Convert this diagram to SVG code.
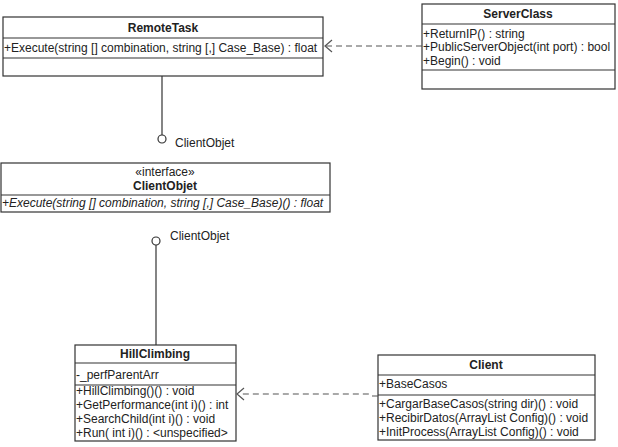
<svg xmlns="http://www.w3.org/2000/svg" width="618" height="447" viewBox="0 0 618 447">
<style>
.box{fill:#fff;stroke:#333;stroke-width:1.2}
.ln{stroke:#333;stroke-width:1.2;fill:none}
.t{font-family:"Liberation Sans",Arial,sans-serif;font-size:12px;fill:#222}
.b{font-weight:bold;text-anchor:middle}
.i{font-style:italic}
.dash{stroke:#555;stroke-width:1.2;fill:none;stroke-dasharray:6,4}
.arr{stroke:#555;stroke-width:1.2;fill:none}
</style>
<rect width="618" height="447" fill="#fff"/>
<g id="RemoteTask">
<rect class="box" x="3" y="17" width="320" height="59"/>
<line class="ln" x1="3" y1="38" x2="323" y2="38"/>
<line class="ln" x1="3" y1="58" x2="323" y2="58"/>
<text class="t b" x="163" y="32">RemoteTask</text>
<text class="t" x="4" y="52">+Execute(string [] combination, string [,] Case_Base) : float</text>
</g>
<g id="ServerClass">
<rect class="box" x="422" y="4" width="193" height="85"/>
<line class="ln" x1="422" y1="24" x2="615" y2="24"/>
<line class="ln" x1="422" y1="70" x2="615" y2="70"/>
<text class="t b" x="518" y="18">ServerClass</text>
<text class="t" x="423" y="38">+ReturnIP() : string</text>
<text class="t" x="423" y="51">+PublicServerObject(int port) : bool</text>
<text class="t" x="423" y="65">+Begin() : void</text>
</g>
<g id="ClientObjet">
<rect class="box" x="1" y="163" width="329" height="49"/>
<line class="ln" x1="1" y1="195" x2="330" y2="195"/>
<text class="t" x="165" y="176" text-anchor="middle">«interface»</text>
<text class="t b" x="165" y="190">ClientObjet</text>
<text class="t i" x="2" y="207">+Execute(string [] combination, string [,] Case_Base)() : float</text>
</g>
<g id="HillClimbing">
<rect class="box" x="75" y="345" width="161" height="96"/>
<line class="ln" x1="75" y1="363" x2="236" y2="363"/>
<line class="ln" x1="75" y1="385" x2="236" y2="385" stroke-width="1.6"/>
<text class="t b" x="155" y="358">HillClimbing</text>
<text class="t" x="76" y="379">-_perfParentArr</text>
<text class="t" x="76" y="395">+HillClimbing()() : void</text>
<text class="t" x="76" y="409">+GetPerformance(int i)() : int</text>
<text class="t" x="76" y="423">+SearchChild(int i)() : void</text>
<text class="t" x="76" y="437">+Run( int i)() : &lt;unspecified&gt;</text>
</g>
<g id="Client">
<rect class="box" x="378" y="355" width="217" height="85"/>
<line class="ln" x1="378" y1="375" x2="595" y2="375"/>
<line class="ln" x1="378" y1="395" x2="595" y2="395" stroke-width="1.6"/>
<text class="t b" x="486" y="369">Client</text>
<text class="t" x="379" y="388">+BaseCasos</text>
<text class="t" x="379" y="408">+CargarBaseCasos(string dir)() : void</text>
<text class="t" x="379" y="422">+RecibirDatos(ArrayList Config)() : void</text>
<text class="t" x="379" y="436">+InitProcess(ArrayList Config)() : void</text>
</g>
<g id="connectors">
<line class="ln" x1="162" y1="76" x2="162" y2="135"/>
<circle cx="162" cy="139" r="4" fill="#fff" stroke="#333" stroke-width="1.2"/>
<text class="t" x="175" y="147">ClientObjet</text>
<circle cx="156" cy="241" r="4" fill="#fff" stroke="#333" stroke-width="1.2"/>
<line class="ln" x1="156" y1="245" x2="156" y2="345"/>
<text class="t" x="170" y="240">ClientObjet</text>
<path class="dash" d="M422,46 L326,46"/>
<path class="arr" d="M332,40 L325,46 L332,52"/>
<path class="dash" d="M378,396 L372,396 L370,394 L239,394"/>
<path class="arr" d="M244,388 L237,394 L244,400"/>
</g>
</svg>
